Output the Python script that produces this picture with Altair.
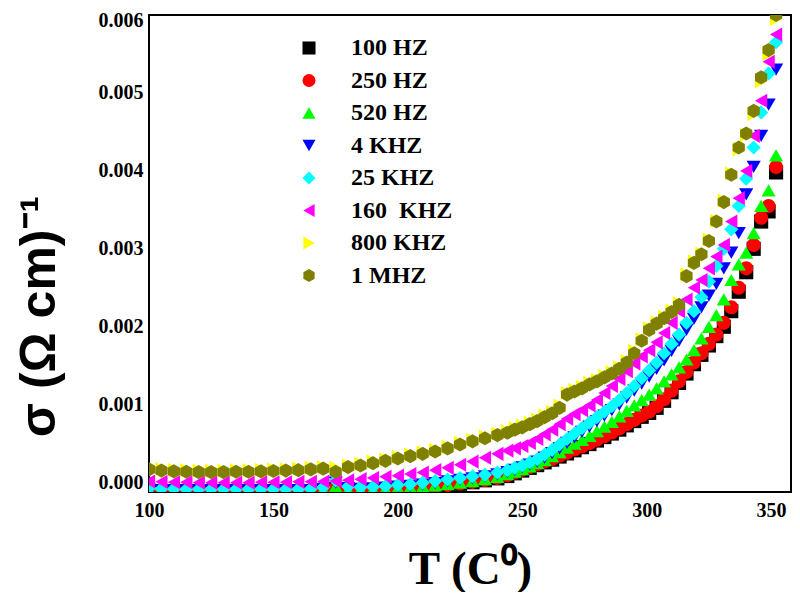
import altair as alt
import pandas as pd

# Temperature grid (deg C)
T = [100, 105, 110, 115, 120, 125, 130, 135, 140, 145, 150, 155, 160, 165, 170,
     175, 180, 185, 190, 195, 200, 205, 210, 215, 220, 225, 230, 235, 240,
     244, 247, 250, 253, 256, 259, 262, 265, 268, 271, 274, 277, 280, 283, 286,
     289, 292, 295, 298, 301, 304, 307, 310, 313, 316, 319, 322, 325, 328, 331,
     334, 337, 340, 343, 346, 349, 352]

# conductivity values in units of 1e-4 (Ohm cm)^-1
s_100hz = [-1.1, -1.1, -1.1, -1.1, -1.1, -1.1, -1.1, -1.1, -1.1, -1.1, -1.1, -1.1, -1.1, -1.1, -1.05,
           -0.8, -1.05, -1.05, -1.0, -0.95, -0.85, -0.75, -0.65, -0.5, -0.35, -0.15, 0.05, 0.3, 0.55,
           0.85, 1.2, 1.55, 1.9, 2.25, 2.6, 2.95, 3.35, 3.75, 4.15, 4.55, 4.95, 5.4, 5.85, 6.3,
           6.8, 7.35, 7.9, 8.45, 8.95, 9.6, 10.5, 11.6, 12.8, 14.0, 15.2, 16.4, 17.6, 18.8, 20.0,
           22.0, 24.5, 27.0, 30.0, 33.5, 34.8, 39.8]
s_250hz = [-1.05, -1.05, -1.05, -1.05, -1.05, -1.05, -1.05, -1.05, -1.05, -1.05, -1.05, -1.05, -1.05, -1.05, -1.0,
           -0.7, -1.0, -1.0, -0.95, -0.9, -0.8, -0.7, -0.6, -0.45, -0.3, -0.1, 0.1, 0.35, 0.6,
           0.95, 1.3, 1.65, 2.0, 2.35, 2.7, 3.05, 3.45, 3.85, 4.25, 4.65, 5.05, 5.5, 5.95, 6.45,
           6.95, 7.5, 8.05, 8.6, 9.1, 9.8, 10.7, 11.8, 13.0, 14.2, 15.4, 16.6, 17.8, 19.0, 20.5,
           22.5, 25.0, 27.5, 30.5, 34.0, 35.5, 40.5]
s_520hz = [-1.0, -1.0, -1.0, -1.0, -1.0, -1.0, -1.0, -1.0, -1.0, -1.0, -1.0, -1.0, -1.0, -1.0, -0.9,
           -0.5, -0.9, -0.9, -0.85, -0.8, -0.7, -0.6, -0.5, -0.35, -0.2, 0.0, 0.2, 0.45, 0.75,
           1.1, 1.4, 1.75, 2.1, 2.5, 2.9, 3.4, 3.9, 4.5, 5.0, 5.5, 6.0, 6.6, 7.2, 7.8,
           8.5, 9.2, 9.9, 10.6, 11.3, 12.1, 13.0, 13.9, 14.8, 15.8, 17.0, 18.5, 20.0, 21.5, 23.5,
           26.0, 28.0, 29.5, 32.0, 35.5, 37.5, 42.0]
s_4khz = [-0.9, -0.95, -0.95, -1.0, -1.0, -1.0, -1.0, -1.0, -1.0, -1.0, -1.0, -1.0, -1.0, -0.95, -0.8,
          0.0, -0.7, -0.8, -0.75, -0.65, -0.5, -0.4, -0.25, -0.05, 0.15, 0.35, 0.55, 0.8, 1.05,
          1.35, 1.65, 1.95, 2.3, 2.7, 3.2, 3.8, 4.4, 5.1, 5.8, 6.5, 7.2, 7.9, 8.6, 9.3,
          10.0, 10.9, 11.8, 12.7, 13.6, 14.6, 15.7, 16.9, 18.2, 19.6, 21.0, 22.5, 24.0, 25.5, 27.5,
          29.5, 32.0, 37.0, 40.5, 44.5, 48.5, 53.0]
s_25khz = [-0.7, -0.8, -0.8, -0.85, -0.85, -0.85, -0.85, -0.85, -0.85, -0.85, -0.85, -0.85, -0.85, -0.8, -0.6,
           0.3, -0.5, -0.6, -0.55, -0.45, -0.3, -0.2, 0.0, 0.2, 0.4, 0.6, 0.8, 1.0, 1.3,
           1.6, 1.9, 2.2, 2.6, 3.0, 3.6, 4.2, 4.9, 5.6, 6.3, 7.0, 7.7, 8.4, 9.1, 9.8,
           10.6, 11.5, 12.4, 13.4, 14.4, 15.4, 16.6, 17.8, 19.0, 20.5, 22.0, 23.8, 25.8, 27.8, 30.0,
           32.5, 35.5, 39.0, 43.0, 47.5, 52.5, 56.5]
s_160khz = [0.15, 0.1, 0.05, 0.05, 0.0, 0.0, 0.0, 0.0, 0.0, 0.05, 0.05, 0.05, 0.1, 0.1, 0.15,
            0.2, 0.3, 0.45, 0.6, 0.75, 0.9, 1.1, 1.3, 1.6, 1.9, 2.3, 2.7, 3.2, 3.7,
            4.1, 4.4, 4.7, 5.1, 5.6, 6.2, 6.8, 7.5, 8.2, 8.8, 9.3, 9.9, 10.6, 11.5, 12.4,
            13.3, 14.3, 15.3, 16.2, 17.0, 18.0, 19.2, 20.5, 22.0, 23.5, 25.0, 26.0, 27.5, 29.0, 30.5,
            33.5, 36.5, 40.0, 44.5, 49.0, 54.0, 57.5]
s_800khz = [1.9, 1.75, 1.65, 1.6, 1.55, 1.55, 1.55, 1.6, 1.6, 1.65, 1.7, 1.75, 1.8, 1.9, 2.0,
            1.9, 2.2, 2.4, 2.7, 3.0, 3.3, 3.6, 3.9, 4.2, 4.6, 5.1, 5.5, 5.9, 6.3,
            6.6, 7.0, 7.3, 7.7, 8.1, 8.6, 9.1, 9.9, 11.5, 11.9, 12.3, 12.8, 13.2, 13.7, 14.2,
            14.8, 15.6, 16.9, 18.4, 19.8, 20.6, 21.3, 22.1, 23.0, 26.7, 28.4, 29.4, 31.2, 33.6, 36.2,
            39.7, 42.8, 44.6, 47.3, 51.5, 55.0, 59.5]
s_1mhz = [1.7, 1.55, 1.45, 1.4, 1.35, 1.35, 1.35, 1.4, 1.4, 1.45, 1.5, 1.55, 1.6, 1.7, 1.8,
          1.4, 2.0, 2.2, 2.5, 2.8, 3.1, 3.4, 3.7, 4.0, 4.4, 4.9, 5.3, 5.7, 6.1,
          6.4, 6.8, 7.1, 7.5, 7.9, 8.4, 8.9, 9.6, 11.3, 11.7, 12.1, 12.6, 13.0, 13.5, 14.0,
          14.6, 15.4, 16.6, 18.2, 19.6, 20.4, 21.1, 21.9, 22.8, 26.5, 28.2, 29.3, 31.0, 33.5, 36.0,
          39.5, 43.0, 44.8, 47.7, 52.0, 55.5, 60.0]

series_names = ["100 HZ", "250 HZ", "520 HZ", "4 KHZ", "25 KHZ", "160\u00a0 KHZ", "800 KHZ", "1 MHZ"]
series_values = [s_100hz, s_250hz, s_520hz, s_4khz, s_25khz, s_160khz, s_800khz, s_1mhz]
colors = ["#000000", "#ff0000", "#00ff00", "#0000ff", "#00ffff", "#ff00ff", "#ffff00", "#808000"]
hexagon = "M0,-1L0.866,-0.5L0.866,0.5L0,1L-0.866,0.5L-0.866,-0.5Z"
shapes = ["square", "circle", "triangle-up", "triangle-down", "diamond",
          "triangle-left", "triangle-right", hexagon]

y_ticks = [0, 0.001, 0.002, 0.003, 0.004, 0.005, 0.006]
x_ticks = [100, 150, 200, 250, 300, 350]

rows = []
for k, (name, vals) in enumerate(zip(series_names, series_values)):
    for t, v in zip(T, vals):
        rows.append({"T": t, "sigma": v * 1e-4, "freq": name, "k": k})
df = pd.DataFrame(rows)

W, H = 642, 477

points = alt.Chart(df).mark_point(filled=True, opacity=1, size=200, strokeWidth=0, clip=True).encode(
    x=alt.X("T:Q", scale=alt.Scale(domain=[100, 358], nice=False, zero=False),
            axis=alt.Axis(title="T (C\u2070)", values=x_ticks,
                          titleX=W / 2, titleY=91, titleBaseline="alphabetic",
                          titleFont="Liberation Serif", titleFontSize=47, titleFontWeight="bold",
                          labelPadding=8)),
    y=alt.Y("sigma:Q", scale=alt.Scale(domain=[-0.00012, 0.006], nice=False, zero=False),
            axis=alt.Axis(title="\u03c3 (\u03a9 cm)\u207b\u00b9",
                          values=y_ticks, format=".3f",
                          titleAngle=270, titleX=-95, titleY=301, titleAlign="center",
                          titleBaseline="alphabetic",
                          titleFont="Liberation Sans", titleFontSize=50, titleFontWeight="bold",
                          labelPadding=6,
                          labelOffset={"condition": {"test": "datum.value >= 0.0059", "value": 5},
                                       "value": 0})),
    color=alt.Color("freq:N", scale=alt.Scale(domain=series_names, range=colors),
                    legend=alt.Legend(title=None, orient="none", legendX=148, legendY=21,
                                      labelFont="Liberation Serif", labelFontSize=24,
                                      labelFontWeight="bold", labelColor="black",
                                      symbolSize=170, symbolStrokeWidth=0, symbolOpacity=1,
                                      rowPadding=8.5, labelOffset=30, padding=0)),
    shape=alt.Shape("freq:N", scale=alt.Scale(domain=series_names, range=shapes)),
    order=alt.Order("k:Q"),
)

chart = points.properties(
    width=W, height=H,
    autosize=alt.AutoSizeParams(type="none"),
    padding={"left": 141, "top": 7, "right": 1, "bottom": 100},
).configure_view(
    stroke="black", strokeWidth=2
).configure_axis(
    domain=False, ticks=False, grid=False,
    labelFont="Liberation Serif", labelFontSize=20, labelFontWeight="bold", labelColor="black",
    titleColor="black", labelFlush=False, labelOverlap=False,
)

chart.save("out.html", embed_options={"renderer": "svg", "actions": False})
